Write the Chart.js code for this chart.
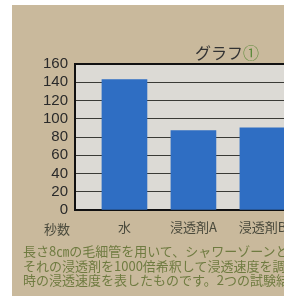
<!DOCTYPE html>
<html><head><meta charset="utf-8">
<script src="https://cdn.jsdelivr.net/npm/chart.js@4/dist/chart.umd.min.js"></script>
<style>
html,body{margin:0;padding:0;width:284px;height:296px;overflow:hidden;background:#fff;}
#bg{position:absolute;left:12px;top:5px;width:272px;height:291px;background:#c9b99c;}
#wrap{position:absolute;left:0;top:0;width:310px;height:240px;}
.t{position:absolute;white-space:nowrap;font-family:"Noto Sans CJK JP","Noto Sans",sans-serif;}
#title{left:195px;top:40px;font-size:16px;color:#333;}
#title span{color:#5c8a3a;}
#unit{left:44px;top:219px;font-size:13px;color:#4a4a3c;}
#cap{left:23px;top:244px;font-size:13px;line-height:14.5px;color:#6f7b40;}
</style></head>
<body>
<div id="bg"></div>
<div id="wrap"><canvas id="c" width="310" height="240"></canvas></div>
<div class="t" id="title">グラフ<span>①</span></div>
<div class="t" id="unit">秒数</div>
<div class="t" id="cap">長さ8㎝の毛細管を用いて、シャワーゾーンとそ<br>それの浸透剤を1000倍希釈して浸透速度を調<br>時の浸透速度を表したものです。2つの試験結果</div>
<script>
const categories = ["水", "浸透剤A", "浸透剤B"];
const seconds = [143, 87, 90];
const yTicks = [0, 20, 40, 60, 80, 100, 120, 140, 160];

const plotBg = {
  id: 'plotBg',
  beforeDraw(chart) {
    const {ctx, chartArea: a} = chart;
    ctx.save();
    ctx.fillStyle = '#dcdad5';
    ctx.fillRect(a.left, a.top, a.right - a.left, a.bottom - a.top);
    ctx.restore();
  }
};

new Chart(document.getElementById('c'), {
  type: 'bar',
  data: {
    datasets: [{
      data: categories.map((c, i) => ({x: i, y: seconds[i]})),
      backgroundColor: '#2f6ec3',
      borderWidth: 0,
      barThickness: 45
    }]
  },
  options: {
    responsive: false,
    animation: false,
    events: [],
    layout: {padding: {top: 64, left: 0, right: 0, bottom: 0}},
    plugins: {legend: {display: false}, tooltip: {enabled: false}, title: {display: false}},
    scales: {
      x: {
        type: 'linear',
        offset: false,
        min: -0.717,
        max: 2.69,
        afterFit(s) { s.height = 30; },
        afterBuildTicks(s) { s.ticks = categories.map((c, i) => ({value: i})); },
        grid: {display: false, drawTicks: false},
        border: {display: true, color: '#111', width: 2},
        ticks: {
          autoSkip: false, maxRotation: 0, padding: 9,
          color: '#4a4a3c',
          font: {family: '"Noto Sans CJK JP", sans-serif', size: 13},
          callback: v => (Number.isInteger(v) && categories[v] !== undefined) ? categories[v] : ''
        }
      },
      y: {
        min: yTicks[0],
        max: yTicks[yTicks.length - 1],
        afterFit(s) { s.width = 75; },
        afterBuildTicks(s) { s.ticks = yTicks.map(v => ({value: v})); },
        grid: {
          color: ctx => ctx.tick && ctx.tick.value === 160 ? '#111' : '#3a3a36',
          lineWidth: ctx => ctx.tick && ctx.tick.value === 160 ? 2 : 1,
          drawTicks: false
        },
        border: {display: true, color: '#111', width: 2},
        ticks: {
          autoSkip: false,
          padding: 7,
          color: '#2a2a2a',
          font: {family: '"Liberation Sans", Arial, sans-serif', size: 15}
        }
      }
    }
  },
  plugins: [plotBg]
});
</script>
</body></html>
